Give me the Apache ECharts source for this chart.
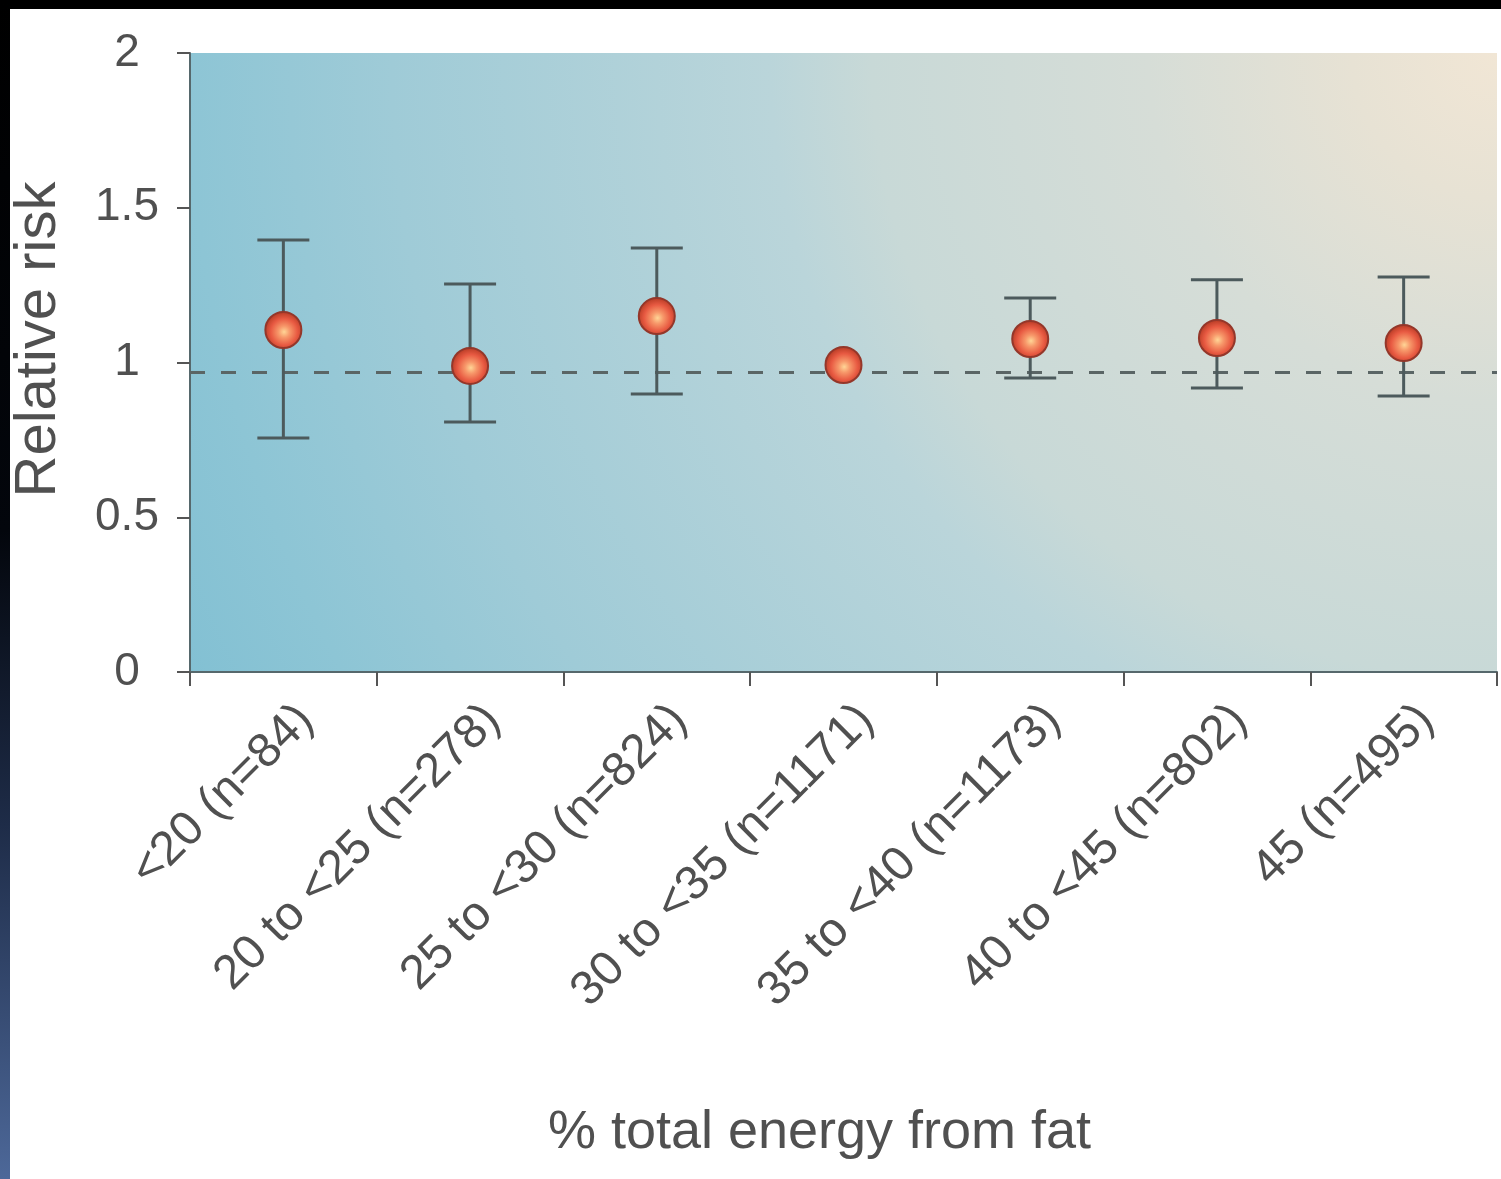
<!DOCTYPE html>
<html>
<head>
<meta charset="utf-8">
<script src="https://cdn.jsdelivr.net/npm/echarts@6/dist/echarts.min.js"></script>
<style>
html,body{margin:0;padding:0;background:#fff;}
#chart{width:1501px;height:1179px;}
</style>
</head>
<body>
<div id="chart"></div>
<script>
var categories = ['<20 (n=84)', '20 to <25 (n=278)', '25 to <30 (n=824)', '30 to <35 (n=1171)', '35 to <40 (n=1173)', '40 to <45 (n=802)', '45 (n=495)'];
var relativeRisk = [1.105, 0.989, 1.150, 0.992, 1.076, 1.079, 1.063];
var ciLow = [0.756, 0.808, 0.898, null, 0.950, 0.918, 0.892];
var ciHigh = [1.396, 1.254, 1.370, null, 1.208, 1.267, 1.276];
var referenceLine = 0.973;
var yTicks = [0, 0.5, 1, 1.5, 2];

var FONT = '"Liberation Sans", Arial, Helvetica, sans-serif';
var TEXT = '#505050';

var errData = categories.map(function (c, i) { return [i, ciLow[i], ciHigh[i]]; })
  .filter(function (d) { return d[1] != null && d[2] != null; });

var chart = echarts.init(document.getElementById('chart'), null, {renderer: 'canvas'});
chart.setOption({
  backgroundColor: '#ffffff',
  animation: false,
  graphic: [
    {type: 'rect', left: 0, top: 0, shape: {width: 1501, height: 9}, style: {fill: '#000'}, z: 100},
    {type: 'rect', left: 0, top: 0, shape: {width: 10, height: 1179},
      style: {fill: new echarts.graphic.LinearGradient(0, 0, 0, 1, [
        {offset: 0, color: '#000000'}, {offset: 0.45, color: '#03060c'},
        {offset: 0.7, color: '#1e2c48'}, {offset: 1, color: '#4d6899'}])}, z: 100}
  ],
  grid: {
    left: 190, right: 4, top: 53, bottom: 507,
    show: true, borderWidth: 0,
    backgroundColor: new echarts.graphic.RadialGradient(1, 0, 2.35, [
      {offset: 0, color: '#f1e6d5'},
      {offset: 0.1, color: '#e7e2d4'},
      {offset: 0.24, color: '#d6ddd7'},
      {offset: 0.43, color: '#c8d9d7'},
      {offset: 0.5, color: '#bad5da'},
      {offset: 0.76, color: '#9fcbd7'},
      {offset: 0.9, color: '#8dc5d5'},
      {offset: 1, color: '#82c0d3'}
    ])
  },
  xAxis: {
    type: 'category',
    data: categories,
    boundaryGap: true,
    axisLine: {show: true, lineStyle: {color: '#56686c', width: 2}},
    axisTick: {show: true, length: 14, lineStyle: {color: '#555', width: 2}},
    axisLabel: {rotate: 45, interval: 0, margin: 18, verticalAlign: 'top', padding: [8, 0, 0, 0],
      fontFamily: FONT, fontSize: 48, color: TEXT},
    name: '% total energy from fat',
    nameLocation: 'middle',
    nameGap: 434,
    nameTextStyle: {fontFamily: FONT, fontSize: 54, color: TEXT, padding: [0, 48, 0, 0]},
    splitLine: {show: false}
  },
  yAxis: {
    type: 'value',
    min: 0, max: 2, interval: 0.5,
    axisLine: {show: true, lineStyle: {color: '#56686c', width: 2}},
    axisTick: {show: true, length: 13, lineStyle: {color: '#555', width: 2}},
    axisLabel: {margin: 63, align: 'center', fontFamily: FONT, fontSize: 46, color: TEXT,
      formatter: function (v) { return yTicks.indexOf(v) >= 0 ? String(v) : ''; }},
    splitLine: {show: false},
    name: 'Relative risk',
    nameLocation: 'middle',
    nameGap: 122,
    nameTextStyle: {fontFamily: FONT, fontSize: 58, color: TEXT, padding: [0, 0, 0, 46]}
  },
  series: [
    {
      type: 'custom',
      name: 'CI',
      data: errData,
      z: 2,
      renderItem: function (params, api) {
        var x = api.value(0);
        var lo = api.coord([x, api.value(1)]);
        var hi = api.coord([x, api.value(2)]);
        var hw = 26;
        var st = {stroke: '#4c5a5c', lineWidth: 3};
        return {
          type: 'group',
          children: [
            {type: 'line', shape: {x1: hi[0], y1: hi[1], x2: lo[0], y2: lo[1]}, style: st},
            {type: 'line', shape: {x1: hi[0] - hw, y1: hi[1], x2: hi[0] + hw, y2: hi[1]}, style: st},
            {type: 'line', shape: {x1: lo[0] - hw, y1: lo[1], x2: lo[0] + hw, y2: lo[1]}, style: st}
          ]
        };
      }
    },
    {
      type: 'scatter',
      name: 'RR',
      data: relativeRisk,
      z: 3,
      symbol: 'circle',
      symbolSize: 36,
      itemStyle: {
        opacity: 1,
        color: new echarts.graphic.RadialGradient(0.52, 0.55, 0.5, [
          {offset: 0, color: '#ffd596'},
          {offset: 0.3, color: '#f7986a'},
          {offset: 0.7, color: '#e85a42'},
          {offset: 1, color: '#bf4029'}
        ]),
        borderColor: '#94372a',
        borderWidth: 2
      },
      markLine: {
        silent: true,
        symbol: 'none',
        label: {show: false},
        lineStyle: {color: '#5a6565', width: 3, type: [15, 16]},
        data: [{yAxis: referenceLine}],
        z: 1
      }
    }
  ]
});
</script>
</body>
</html>
